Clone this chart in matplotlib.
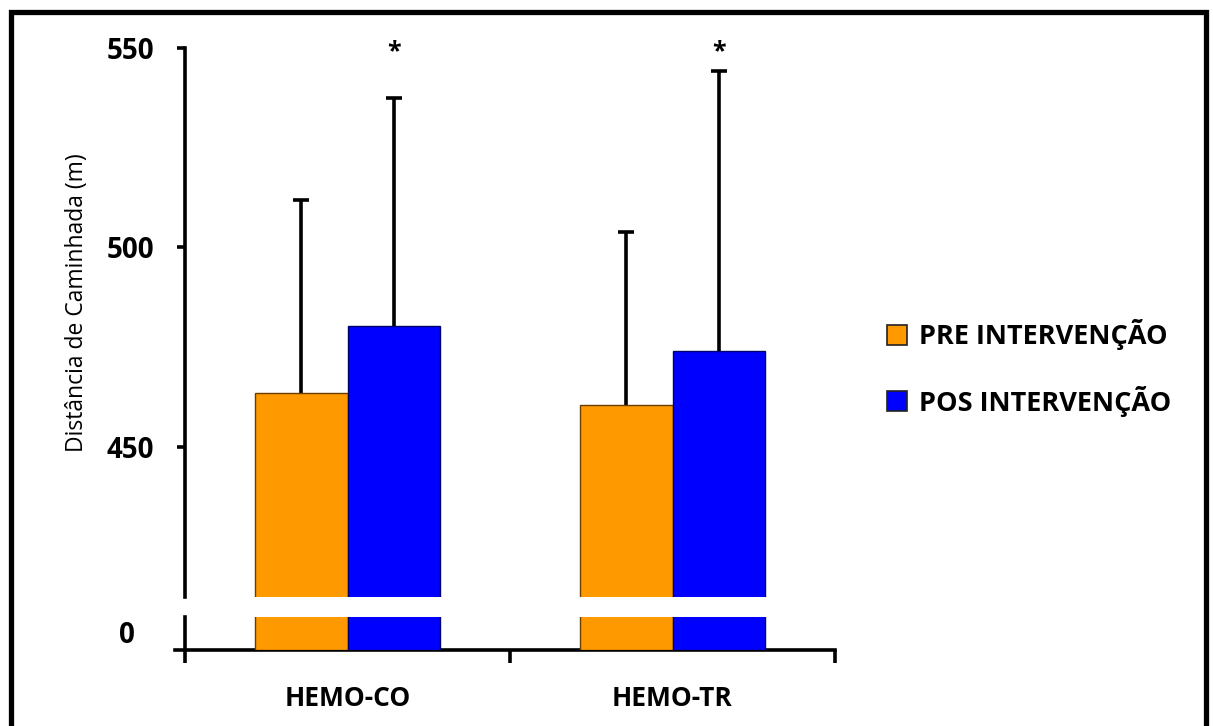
import matplotlib.pyplot as plt
import numpy as np
from matplotlib.patches import Rectangle
from matplotlib.ticker import FixedLocator

# walking distance, mean and SD per group
grupos = ['HEMO-CO', 'HEMO-TR']
pre = [463.5, 460.5]
pos = [480.2, 474.0]
dp_pre = [48.5, 43.4]
dp_pos = [57.3, 70.2]
rotulos = ['PRE INTERVENÇÃO', 'POS INTERVENÇÃO']
yticks_top = [450, 500, 550]

cor_pre = '#FF9900'
cor_pos = '#0000FF'

plt.rcParams['font.family'] = ['Open Sans', 'DejaVu Sans']

W, H = 1213, 726
fig = plt.figure(figsize=(W / 100, H / 100), dpi=100)

# broken y axis: upper part holds the real scale, lower strip holds the "0"
ax = fig.add_axes([185 / W, (H - 597) / H, 650 / W, 549 / H])
axb = fig.add_axes([185 / W, (H - 650) / H, 650 / W, 33 / H])

x = np.arange(len(grupos))
larg = 0.286

for a in (ax, axb):
    a.bar(x - larg / 2, pre, larg, color=cor_pre, edgecolor='#6b3d00', linewidth=1, zorder=3)
    a.bar(x + larg / 2, pos, larg, color=cor_pos, edgecolor='#00006b', linewidth=1, zorder=3)
    a.set_xlim(-0.5, 1.5)
    for s in ['top', 'right']:
        a.spines[s].set_visible(False)

# upper error bars only
for xs, m, sd in [(x - larg / 2, pre, dp_pre), (x + larg / 2, pos, dp_pos)]:
    eb = ax.errorbar(xs, m, yerr=[np.zeros(len(sd)), sd], fmt='none', ecolor='black',
                     elinewidth=2.6, capsize=5.5, capthick=2.6, zorder=2)
    eb[1][0].set_visible(False)

for xi in x:
    ax.text(xi + larg / 2, 549, '*', ha='center', va='center', fontsize=18, fontweight='bold')

ax.set_ylim(412.3, 550)
ax.spines['bottom'].set_visible(False)
ax.spines['left'].set_linewidth(2.6)
ax.set_xticks([])
ax.set_yticks(yticks_top)
ax.set_yticklabels([str(v) for v in yticks_top], fontsize=20, fontweight='bold')
ax.tick_params(axis='y', direction='out', length=6, width=2.6, pad=16)

axb.set_ylim(0, 10)
axb.spines['left'].set_linewidth(2.6)
axb.spines['bottom'].set_linewidth(2.6)
axb.spines['bottom'].set_bounds(-0.53, 1.5)
axb.set_yticks([0])
axb.set_yticklabels(['0'], fontsize=20, fontweight='bold')
axb.tick_params(axis='y', length=0, pad=36)
for lab in axb.get_yticklabels():
    lab.set_verticalalignment('bottom')

axb.xaxis.set_major_locator(FixedLocator([-0.5, 0.5, 1.5]))
axb.xaxis.set_minor_locator(FixedLocator(list(x)))
axb.set_xticklabels([], minor=False)
axb.set_xticklabels(grupos, minor=True, fontsize=19, fontweight='bold')
axb.tick_params(axis='x', which='major', direction='out', length=9, width=2.6)
axb.tick_params(axis='x', which='minor', length=0, pad=25)

fig.text(77 / W, (H - 303) / H, 'Distância de Caminhada (m)', rotation=90,
         ha='center', va='center', fontsize=16.5)

handles = [Rectangle((0, 0), 1, 1, facecolor=cor_pre, edgecolor='#222222', linewidth=1.2),
           Rectangle((0, 0), 1, 1, facecolor=cor_pos, edgecolor='#222222', linewidth=1.2)]
leg = fig.legend(handles, rotulos, loc='center left', bbox_to_anchor=(887 / W, (H - 368) / H),
                 frameon=False, borderpad=0, borderaxespad=0, handlelength=0.72,
                 handleheight=0.72, handletextpad=0.45, labelspacing=1.3,
                 prop={'size': 19.5, 'weight': 'bold'})

# outer frame around the figure
fig.add_artist(Rectangle((10.5 / W, -0.1), (1206 - 10.5) / W, (H - 12) / H + 0.1,
                         transform=fig.transFigure, fill=False, linewidth=3.8,
                         edgecolor='black'))

fig.savefig('out.png', dpi=100, facecolor='white')
